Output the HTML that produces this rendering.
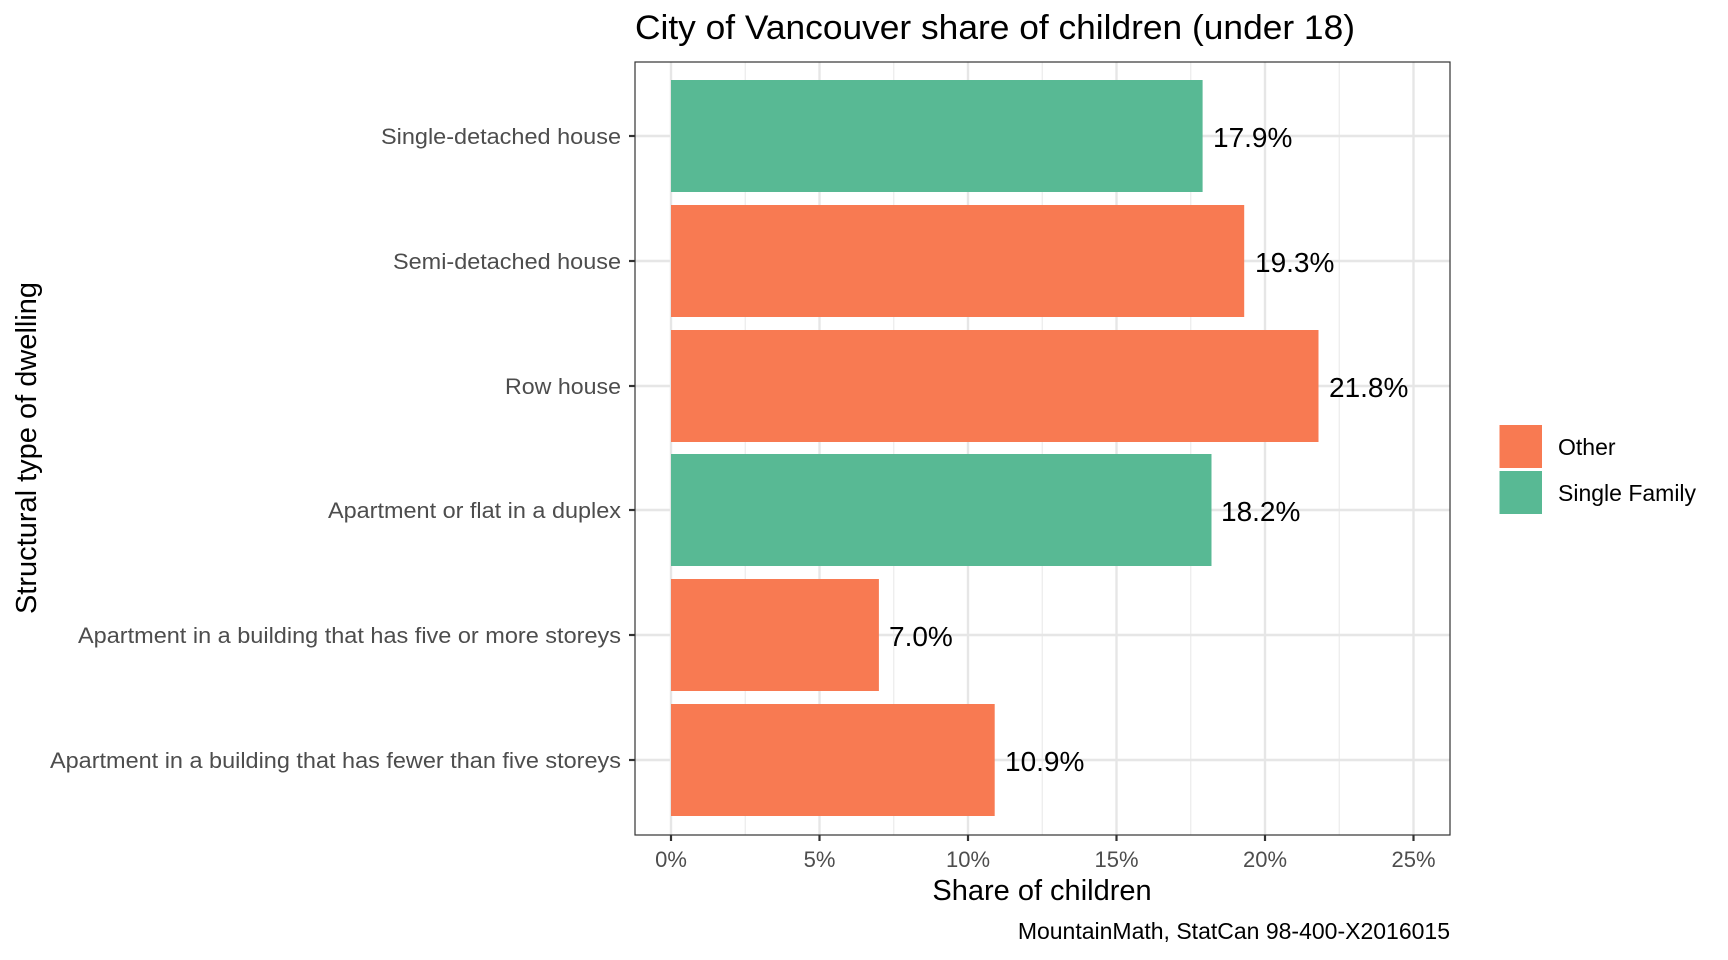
<!DOCTYPE html>
<html><head><meta charset="utf-8"><style>body{margin:0;background:#fff}svg{display:block}</style></head>
<body>
<svg width="1728" height="960" xmlns="http://www.w3.org/2000/svg" font-family="Liberation Sans, Arial, sans-serif">
<rect width="1728" height="960" fill="#fff"/>
<text x="635" y="39" font-size="34" fill="#000" textLength="720" lengthAdjust="spacingAndGlyphs">City of Vancouver share of children (under 18)</text>
<g stroke="#ebebeb" stroke-width="1.2">
<line x1="745.25" y1="62" x2="745.25" y2="835"/><line x1="893.75" y1="62" x2="893.75" y2="835"/><line x1="1042.25" y1="62" x2="1042.25" y2="835"/><line x1="1190.75" y1="62" x2="1190.75" y2="835"/><line x1="1339.25" y1="62" x2="1339.25" y2="835"/>
</g>
<g stroke="#e6e6e6" stroke-width="2.4">
<line x1="671" y1="62" x2="671" y2="835"/><line x1="819.5" y1="62" x2="819.5" y2="835"/><line x1="968" y1="62" x2="968" y2="835"/><line x1="1116.5" y1="62" x2="1116.5" y2="835"/><line x1="1265" y1="62" x2="1265" y2="835"/><line x1="1413.5" y1="62" x2="1413.5" y2="835"/>
<line x1="635" y1="136" x2="1450" y2="136"/><line x1="635" y1="261" x2="1450" y2="261"/><line x1="635" y1="386" x2="1450" y2="386"/><line x1="635" y1="510" x2="1450" y2="510"/><line x1="635" y1="635" x2="1450" y2="635"/><line x1="635" y1="760" x2="1450" y2="760"/>
</g>
<rect x="671" y="80" width="531.6" height="112" fill="#58b994"/>
<rect x="671" y="205" width="573.2" height="112" fill="#f87a52"/>
<rect x="671" y="330" width="647.5" height="112" fill="#f87a52"/>
<rect x="671" y="454" width="540.5" height="112" fill="#58b994"/>
<rect x="671" y="579" width="207.9" height="112" fill="#f87a52"/>
<rect x="671" y="704" width="323.7" height="112" fill="#f87a52"/>
<g font-size="28" fill="#000">
<text x="1213" y="147">17.9%</text>
<text x="1255" y="272">19.3%</text>
<text x="1329" y="397">21.8%</text>
<text x="1221" y="521">18.2%</text>
<text x="889" y="646">7.0%</text>
<text x="1005" y="771">10.9%</text>
</g>
<rect x="635" y="62" width="815" height="773" fill="none" stroke="#333" stroke-width="1.2"/>
<g stroke="#333" stroke-width="2.2">
<line x1="629" y1="136" x2="635" y2="136"/><line x1="629" y1="261" x2="635" y2="261"/><line x1="629" y1="386" x2="635" y2="386"/><line x1="629" y1="510" x2="635" y2="510"/><line x1="629" y1="635" x2="635" y2="635"/><line x1="629" y1="760" x2="635" y2="760"/>
<line x1="671" y1="835" x2="671" y2="841"/><line x1="819.5" y1="835" x2="819.5" y2="841"/><line x1="968" y1="835" x2="968" y2="841"/><line x1="1116.5" y1="835" x2="1116.5" y2="841"/><line x1="1265" y1="835" x2="1265" y2="841"/><line x1="1413.5" y1="835" x2="1413.5" y2="841"/>
</g>
<g font-size="22" fill="#4d4d4d" text-anchor="end" lengthAdjust="spacingAndGlyphs">
<text x="621" y="144" textLength="240" lengthAdjust="spacingAndGlyphs">Single-detached house</text>
<text x="621" y="269" textLength="228" lengthAdjust="spacingAndGlyphs">Semi-detached house</text>
<text x="621" y="394" textLength="116" lengthAdjust="spacingAndGlyphs">Row house</text>
<text x="621" y="518" textLength="293" lengthAdjust="spacingAndGlyphs">Apartment or flat in a duplex</text>
<text x="621" y="643" textLength="543" lengthAdjust="spacingAndGlyphs">Apartment in a building that has five or more storeys</text>
<text x="621" y="768" textLength="571" lengthAdjust="spacingAndGlyphs">Apartment in a building that has fewer than five storeys</text>
</g>
<g font-size="22" fill="#4d4d4d" text-anchor="middle">
<text x="671" y="867">0%</text><text x="819.5" y="867">5%</text><text x="968" y="867">10%</text><text x="1116.5" y="867">15%</text><text x="1265" y="867">20%</text><text x="1413.5" y="867">25%</text>
</g>
<text x="1042" y="900" font-size="29" text-anchor="middle" fill="#000">Share of children</text>
<text transform="translate(36,448) rotate(-90)" font-size="29" text-anchor="middle" fill="#000">Structural type of dwelling</text>
<text x="1450" y="939" font-size="23" text-anchor="end" fill="#000">MountainMath, StatCan 98-400-X2016015</text>
<rect x="1499.5" y="425" width="42.5" height="43" fill="#f87a52"/>
<rect x="1499.5" y="471" width="42.5" height="43" fill="#58b994"/>
<text x="1558" y="455" font-size="23" fill="#000">Other</text>
<text x="1558" y="501" font-size="23" fill="#000">Single Family</text>
</svg>
</body></html>
